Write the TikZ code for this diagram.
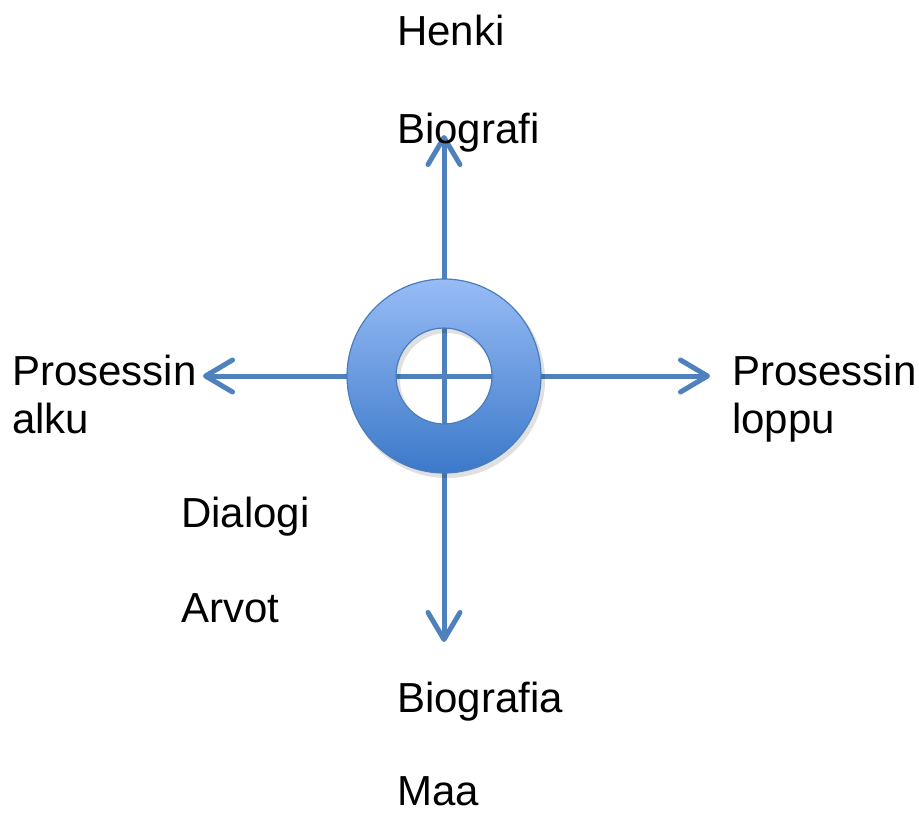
\documentclass[tikz,border=0pt]{standalone}
\usepackage{fontspec}
\setmainfont{Liberation Sans}
\usetikzlibrary{arrows.meta}
\definecolor{axisblue}{HTML}{4F81BD}
\definecolor{ringtop}{HTML}{97BCF6}
\definecolor{ringbottom}{HTML}{3C79C9}
\definecolor{ringedge}{HTML}{4A7DBB}
\begin{document}
\begin{tikzpicture}[x=1pt,y=-1pt,
  axis/.style={draw=axisblue,line width=5pt,line cap=round,
    -{Straight Barb[length=27pt,width=32pt,line cap=round,line join=round]}},
  label/.style={anchor=base west,inner sep=0pt,font=\fontsize{42}{48}\selectfont,align=left}]
\useasboundingbox[fill=white] (0,0) rectangle (919,812);

% centre of the ring and the four arrow tips
\coordinate (c) at (444,376);
\coordinate (ntip) at (444,135);
\coordinate (stip) at (444,642);
\coordinate (wtip) at (203,376);
\coordinate (etip) at (710,376);

% axes
\draw[axis] (c) -- (ntip);
\draw[axis] (c) -- (stip);
\draw[axis] (c) -- (wtip);
\draw[axis] (c) -- (etip);

% soft shadow and shaded ring
\fill[even odd rule,black,opacity=0.12] (447,380) circle[radius=98] (447,380) circle[radius=47];
\path[even odd rule,top color=ringtop,bottom color=ringbottom,draw=ringedge,line width=1.2pt]
  (c) circle[radius=97] (c) circle[radius=48];

% labels
\node[label] (henki) at (397,45) {Henki};
\node[label] (biografi) at (397,143) {Biografi};
\node[label] (alku) at (12,433) {Prosessin\\alku};
\node[label] (loppu) at (732,433) {Prosessin\\loppu};
\node[label] (dialogi) at (181,527) {Dialogi};
\node[label] (arvot) at (181,622) {Arvot};
\node[label] (biografia) at (397,712) {Biografia};
\node[label] (maa) at (397,805) {Maa};
\end{tikzpicture}
\end{document}
